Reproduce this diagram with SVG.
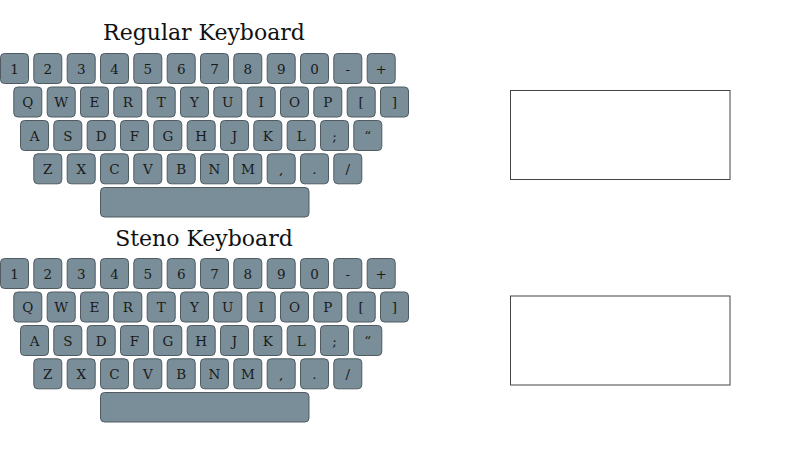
<svg xmlns="http://www.w3.org/2000/svg" width="800" height="450" viewBox="0 0 800 450">
<style>
.k rect{fill:#798e99;stroke:#4f5b61;stroke-width:1}
.k text{font-family:"DejaVu Serif","Liberation Serif",serif;font-size:13.5px;fill:#1a1a1a;text-anchor:middle}
.title{font-family:"DejaVu Serif","Liberation Serif",serif;font-size:22px;fill:#111;text-anchor:middle}
.box{fill:#fff;stroke:#444;stroke-width:1}
</style>
<rect width="800" height="450" fill="#fff"/>
<g id="regular">
<text class="title" x="204" y="40">Regular Keyboard</text>
<g id="r-1" class="k"><rect x="0.5" y="53.5" width="28" height="30" rx="4"/><text x="14.5" y="73.5">1</text></g>
<g id="r-2" class="k"><rect x="33.8" y="53.5" width="28" height="30" rx="4"/><text x="47.8" y="73.5">2</text></g>
<g id="r-3" class="k"><rect x="67.2" y="53.5" width="28" height="30" rx="4"/><text x="81.2" y="73.5">3</text></g>
<g id="r-4" class="k"><rect x="100.5" y="53.5" width="28" height="30" rx="4"/><text x="114.5" y="73.5">4</text></g>
<g id="r-5" class="k"><rect x="133.8" y="53.5" width="28" height="30" rx="4"/><text x="147.8" y="73.5">5</text></g>
<g id="r-6" class="k"><rect x="167.2" y="53.5" width="28" height="30" rx="4"/><text x="181.2" y="73.5">6</text></g>
<g id="r-7" class="k"><rect x="200.5" y="53.5" width="28" height="30" rx="4"/><text x="214.5" y="73.5">7</text></g>
<g id="r-8" class="k"><rect x="233.8" y="53.5" width="28" height="30" rx="4"/><text x="247.8" y="73.5">8</text></g>
<g id="r-9" class="k"><rect x="267.2" y="53.5" width="28" height="30" rx="4"/><text x="281.2" y="73.5">9</text></g>
<g id="r-0" class="k"><rect x="300.5" y="53.5" width="28" height="30" rx="4"/><text x="314.5" y="73.5">0</text></g>
<g id="r-minus" class="k"><rect x="333.8" y="53.5" width="28" height="30" rx="4"/><text x="347.8" y="73.5">-</text></g>
<g id="r-plus" class="k"><rect x="367.2" y="53.5" width="28" height="30" rx="4"/><text x="381.2" y="73.5">+</text></g>
<g id="r-q" class="k"><rect x="13.8" y="87" width="28" height="30" rx="4"/><text x="27.8" y="107">Q</text></g>
<g id="r-w" class="k"><rect x="47.2" y="87" width="28" height="30" rx="4"/><text x="61.2" y="107">W</text></g>
<g id="r-e" class="k"><rect x="80.5" y="87" width="28" height="30" rx="4"/><text x="94.5" y="107">E</text></g>
<g id="r-r" class="k"><rect x="113.8" y="87" width="28" height="30" rx="4"/><text x="127.8" y="107">R</text></g>
<g id="r-t" class="k"><rect x="147.2" y="87" width="28" height="30" rx="4"/><text x="161.2" y="107">T</text></g>
<g id="r-y" class="k"><rect x="180.5" y="87" width="28" height="30" rx="4"/><text x="194.5" y="107">Y</text></g>
<g id="r-u" class="k"><rect x="213.8" y="87" width="28" height="30" rx="4"/><text x="227.8" y="107">U</text></g>
<g id="r-i" class="k"><rect x="247.2" y="87" width="28" height="30" rx="4"/><text x="261.2" y="107">I</text></g>
<g id="r-o" class="k"><rect x="280.5" y="87" width="28" height="30" rx="4"/><text x="294.5" y="107">O</text></g>
<g id="r-p" class="k"><rect x="313.8" y="87" width="28" height="30" rx="4"/><text x="327.8" y="107">P</text></g>
<g id="r-lbr" class="k"><rect x="347.2" y="87" width="28" height="30" rx="4"/><text x="361.2" y="107">[</text></g>
<g id="r-rbr" class="k"><rect x="380.5" y="87" width="28" height="30" rx="4"/><text x="394.5" y="107">]</text></g>
<g id="r-a" class="k"><rect x="20.5" y="120.5" width="28" height="30" rx="4"/><text x="34.5" y="140.5">A</text></g>
<g id="r-s" class="k"><rect x="53.8" y="120.5" width="28" height="30" rx="4"/><text x="67.8" y="140.5">S</text></g>
<g id="r-d" class="k"><rect x="87.2" y="120.5" width="28" height="30" rx="4"/><text x="101.2" y="140.5">D</text></g>
<g id="r-f" class="k"><rect x="120.5" y="120.5" width="28" height="30" rx="4"/><text x="134.5" y="140.5">F</text></g>
<g id="r-g" class="k"><rect x="153.8" y="120.5" width="28" height="30" rx="4"/><text x="167.8" y="140.5">G</text></g>
<g id="r-h" class="k"><rect x="187.2" y="120.5" width="28" height="30" rx="4"/><text x="201.2" y="140.5">H</text></g>
<g id="r-j" class="k"><rect x="220.5" y="120.5" width="28" height="30" rx="4"/><text x="234.5" y="140.5">J</text></g>
<g id="r-k" class="k"><rect x="253.8" y="120.5" width="28" height="30" rx="4"/><text x="267.8" y="140.5">K</text></g>
<g id="r-l" class="k"><rect x="287.2" y="120.5" width="28" height="30" rx="4"/><text x="301.2" y="140.5">L</text></g>
<g id="r-semi" class="k"><rect x="320.5" y="120.5" width="28" height="30" rx="4"/><text x="334.5" y="140.5">;</text></g>
<g id="r-quote" class="k"><rect x="353.8" y="120.5" width="28" height="30" rx="4"/><text x="367.8" y="140.5">“</text></g>
<g id="r-z" class="k"><rect x="33.8" y="153.8" width="28" height="30" rx="4"/><text x="47.8" y="173.8">Z</text></g>
<g id="r-x" class="k"><rect x="67.2" y="153.8" width="28" height="30" rx="4"/><text x="81.2" y="173.8">X</text></g>
<g id="r-c" class="k"><rect x="100.5" y="153.8" width="28" height="30" rx="4"/><text x="114.5" y="173.8">C</text></g>
<g id="r-v" class="k"><rect x="133.8" y="153.8" width="28" height="30" rx="4"/><text x="147.8" y="173.8">V</text></g>
<g id="r-b" class="k"><rect x="167.2" y="153.8" width="28" height="30" rx="4"/><text x="181.2" y="173.8">B</text></g>
<g id="r-n" class="k"><rect x="200.5" y="153.8" width="28" height="30" rx="4"/><text x="214.5" y="173.8">N</text></g>
<g id="r-m" class="k"><rect x="233.8" y="153.8" width="28" height="30" rx="4"/><text x="247.8" y="173.8">M</text></g>
<g id="r-comma" class="k"><rect x="267.2" y="153.8" width="28" height="30" rx="4"/><text x="281.2" y="173.8">,</text></g>
<g id="r-period" class="k"><rect x="300.5" y="153.8" width="28" height="30" rx="4"/><text x="314.5" y="173.8">.</text></g>
<g id="r-slash" class="k"><rect x="333.8" y="153.8" width="28" height="30" rx="4"/><text x="347.8" y="173.8">/</text></g>
<g id="r-space" class="k"><rect x="100.5" y="187.5" width="208.5" height="29.5" rx="4"/></g>
</g>
<g id="steno" transform="translate(0,205)">
<text class="title" x="204" y="40.5">Steno Keyboard</text>
<g id="s-1" class="k"><rect x="0.5" y="53.5" width="28" height="30" rx="4"/><text x="14.5" y="73.5">1</text></g>
<g id="s-2" class="k"><rect x="33.8" y="53.5" width="28" height="30" rx="4"/><text x="47.8" y="73.5">2</text></g>
<g id="s-3" class="k"><rect x="67.2" y="53.5" width="28" height="30" rx="4"/><text x="81.2" y="73.5">3</text></g>
<g id="s-4" class="k"><rect x="100.5" y="53.5" width="28" height="30" rx="4"/><text x="114.5" y="73.5">4</text></g>
<g id="s-5" class="k"><rect x="133.8" y="53.5" width="28" height="30" rx="4"/><text x="147.8" y="73.5">5</text></g>
<g id="s-6" class="k"><rect x="167.2" y="53.5" width="28" height="30" rx="4"/><text x="181.2" y="73.5">6</text></g>
<g id="s-7" class="k"><rect x="200.5" y="53.5" width="28" height="30" rx="4"/><text x="214.5" y="73.5">7</text></g>
<g id="s-8" class="k"><rect x="233.8" y="53.5" width="28" height="30" rx="4"/><text x="247.8" y="73.5">8</text></g>
<g id="s-9" class="k"><rect x="267.2" y="53.5" width="28" height="30" rx="4"/><text x="281.2" y="73.5">9</text></g>
<g id="s-0" class="k"><rect x="300.5" y="53.5" width="28" height="30" rx="4"/><text x="314.5" y="73.5">0</text></g>
<g id="s-minus" class="k"><rect x="333.8" y="53.5" width="28" height="30" rx="4"/><text x="347.8" y="73.5">-</text></g>
<g id="s-plus" class="k"><rect x="367.2" y="53.5" width="28" height="30" rx="4"/><text x="381.2" y="73.5">+</text></g>
<g id="s-q" class="k"><rect x="13.8" y="87" width="28" height="30" rx="4"/><text x="27.8" y="107">Q</text></g>
<g id="s-w" class="k"><rect x="47.2" y="87" width="28" height="30" rx="4"/><text x="61.2" y="107">W</text></g>
<g id="s-e" class="k"><rect x="80.5" y="87" width="28" height="30" rx="4"/><text x="94.5" y="107">E</text></g>
<g id="s-r" class="k"><rect x="113.8" y="87" width="28" height="30" rx="4"/><text x="127.8" y="107">R</text></g>
<g id="s-t" class="k"><rect x="147.2" y="87" width="28" height="30" rx="4"/><text x="161.2" y="107">T</text></g>
<g id="s-y" class="k"><rect x="180.5" y="87" width="28" height="30" rx="4"/><text x="194.5" y="107">Y</text></g>
<g id="s-u" class="k"><rect x="213.8" y="87" width="28" height="30" rx="4"/><text x="227.8" y="107">U</text></g>
<g id="s-i" class="k"><rect x="247.2" y="87" width="28" height="30" rx="4"/><text x="261.2" y="107">I</text></g>
<g id="s-o" class="k"><rect x="280.5" y="87" width="28" height="30" rx="4"/><text x="294.5" y="107">O</text></g>
<g id="s-p" class="k"><rect x="313.8" y="87" width="28" height="30" rx="4"/><text x="327.8" y="107">P</text></g>
<g id="s-lbr" class="k"><rect x="347.2" y="87" width="28" height="30" rx="4"/><text x="361.2" y="107">[</text></g>
<g id="s-rbr" class="k"><rect x="380.5" y="87" width="28" height="30" rx="4"/><text x="394.5" y="107">]</text></g>
<g id="s-a" class="k"><rect x="20.5" y="120.5" width="28" height="30" rx="4"/><text x="34.5" y="140.5">A</text></g>
<g id="s-s" class="k"><rect x="53.8" y="120.5" width="28" height="30" rx="4"/><text x="67.8" y="140.5">S</text></g>
<g id="s-d" class="k"><rect x="87.2" y="120.5" width="28" height="30" rx="4"/><text x="101.2" y="140.5">D</text></g>
<g id="s-f" class="k"><rect x="120.5" y="120.5" width="28" height="30" rx="4"/><text x="134.5" y="140.5">F</text></g>
<g id="s-g" class="k"><rect x="153.8" y="120.5" width="28" height="30" rx="4"/><text x="167.8" y="140.5">G</text></g>
<g id="s-h" class="k"><rect x="187.2" y="120.5" width="28" height="30" rx="4"/><text x="201.2" y="140.5">H</text></g>
<g id="s-j" class="k"><rect x="220.5" y="120.5" width="28" height="30" rx="4"/><text x="234.5" y="140.5">J</text></g>
<g id="s-k" class="k"><rect x="253.8" y="120.5" width="28" height="30" rx="4"/><text x="267.8" y="140.5">K</text></g>
<g id="s-l" class="k"><rect x="287.2" y="120.5" width="28" height="30" rx="4"/><text x="301.2" y="140.5">L</text></g>
<g id="s-semi" class="k"><rect x="320.5" y="120.5" width="28" height="30" rx="4"/><text x="334.5" y="140.5">;</text></g>
<g id="s-quote" class="k"><rect x="353.8" y="120.5" width="28" height="30" rx="4"/><text x="367.8" y="140.5">“</text></g>
<g id="s-z" class="k"><rect x="33.8" y="153.8" width="28" height="30" rx="4"/><text x="47.8" y="173.8">Z</text></g>
<g id="s-x" class="k"><rect x="67.2" y="153.8" width="28" height="30" rx="4"/><text x="81.2" y="173.8">X</text></g>
<g id="s-c" class="k"><rect x="100.5" y="153.8" width="28" height="30" rx="4"/><text x="114.5" y="173.8">C</text></g>
<g id="s-v" class="k"><rect x="133.8" y="153.8" width="28" height="30" rx="4"/><text x="147.8" y="173.8">V</text></g>
<g id="s-b" class="k"><rect x="167.2" y="153.8" width="28" height="30" rx="4"/><text x="181.2" y="173.8">B</text></g>
<g id="s-n" class="k"><rect x="200.5" y="153.8" width="28" height="30" rx="4"/><text x="214.5" y="173.8">N</text></g>
<g id="s-m" class="k"><rect x="233.8" y="153.8" width="28" height="30" rx="4"/><text x="247.8" y="173.8">M</text></g>
<g id="s-comma" class="k"><rect x="267.2" y="153.8" width="28" height="30" rx="4"/><text x="281.2" y="173.8">,</text></g>
<g id="s-period" class="k"><rect x="300.5" y="153.8" width="28" height="30" rx="4"/><text x="314.5" y="173.8">.</text></g>
<g id="s-slash" class="k"><rect x="333.8" y="153.8" width="28" height="30" rx="4"/><text x="347.8" y="173.8">/</text></g>
<g id="s-space" class="k"><rect x="100.5" y="187.5" width="208.5" height="29.5" rx="4"/></g>
</g>
<g id="regular-output"><rect class="box" x="510.5" y="90.5" width="219.5" height="89"/></g>
<g id="steno-output"><rect class="box" x="510.5" y="296" width="219.5" height="89"/></g>
<g id="connectors"/>
</svg>
